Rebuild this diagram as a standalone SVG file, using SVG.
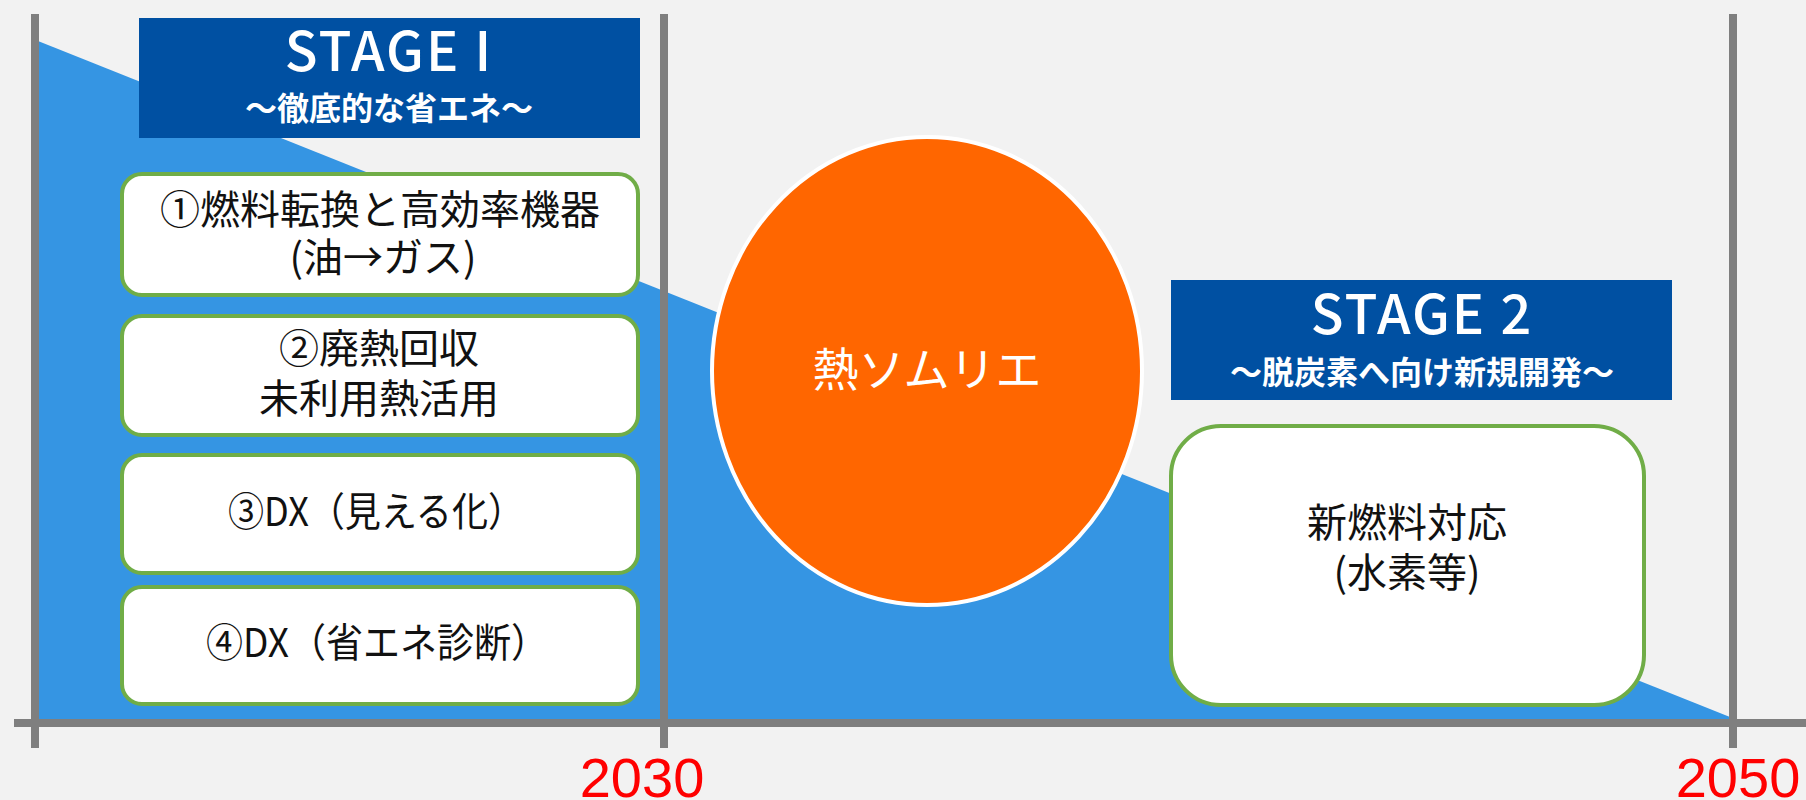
<svg xmlns="http://www.w3.org/2000/svg" width="1806" height="800" viewBox="0 0 1806 800">
<style>
.bg{fill:#F2F2F2}
.area{fill:#3595E3}
.axis{stroke:#7F7F7F;stroke-width:8;fill:none}
.stage{fill:#0050A2}
.item{fill:#FFFFFF;stroke:#70AD47;stroke-width:4}
.t{font-family:"Noto Sans CJK JP","Noto Sans",sans-serif;font-size:40px;fill:#111;text-anchor:middle}
.h{font-family:"Noto Sans CJK JP","Noto Sans",sans-serif;font-weight:bold;fill:#FFFFFF;text-anchor:middle}
.st{font-family:"Noto Sans CJK JP","Noto Sans",sans-serif;font-weight:500;font-size:54px;letter-spacing:2px;fill:#FFFFFF;text-anchor:middle}
.sm{font-family:"Noto Sans CJK JP","Noto Sans",sans-serif;font-weight:normal;font-size:46px;fill:#FFFFFF;text-anchor:middle}
.yr{font-family:"Liberation Sans",Arial,sans-serif;font-size:56px;fill:#FF0000;text-anchor:middle}
</style>
<rect class="bg" x="0" y="0" width="1806" height="800"/>
<polygon class="area" points="38,41 1745,723 38,723"/>
<g id="connectors">
<line class="axis" x1="35" y1="14" x2="35" y2="748"/>
<line class="axis" x1="664" y1="14" x2="664" y2="748"/>
<line class="axis" x1="1733" y1="14" x2="1733" y2="748"/>
<line class="axis" x1="14" y1="723" x2="1806" y2="723"/>
</g>
<g id="stage1">
<rect class="stage" x="139" y="18" width="501" height="120"/>
<text class="st" x="389" y="71">STAGE I</text>
<text class="h" x="389" y="120" font-size="32">～徹底的な省エネ～</text>
</g>
<g id="item1">
<rect class="item" x="122" y="174" width="516" height="121" rx="20"/>
<text class="t" x="380" y="224">①燃料転換と高効率機器</text>
<text class="t" x="383" y="272">(油→ガス)</text>
</g>
<g id="item2">
<rect class="item" x="122" y="316" width="516" height="119" rx="20"/>
<text class="t" x="379" y="363">②廃熱回収</text>
<text class="t" x="379" y="413">未利用熱活用</text>
</g>
<g id="item3">
<rect class="item" x="122" y="455" width="516" height="118" rx="20"/>
<text class="t" x="376" y="526" textLength="296" lengthAdjust="spacingAndGlyphs">③DX（見える化）</text>
</g>
<g id="item4">
<rect class="item" x="122" y="587" width="516" height="117" rx="20"/>
<text class="t" x="377" y="657" textLength="342" lengthAdjust="spacingAndGlyphs">④DX（省エネ診断）</text>
</g>
<g id="sommelier">
<ellipse cx="927" cy="371" rx="215" ry="234" fill="#FF6600" stroke="#FFFFFF" stroke-width="4"/>
<text class="sm" x="927" y="386">熱ソムリエ</text>
</g>
<g id="stage2">
<rect class="stage" x="1171" y="280" width="501" height="120"/>
<text class="st" x="1422" y="334">STAGE 2</text>
<text class="h" x="1422" y="384" font-size="32">～脱炭素へ向け新規開発～</text>
</g>
<g id="newfuel">
<rect class="item" x="1171" y="426" width="473" height="279" rx="50"/>
<text class="t" x="1407" y="537">新燃料対応</text>
<text class="t" x="1407" y="587">(水素等)</text>
</g>
<g id="years">
<text class="yr" x="642" y="797">2030</text>
<text class="yr" x="1738" y="797">2050</text>
</g>
</svg>
